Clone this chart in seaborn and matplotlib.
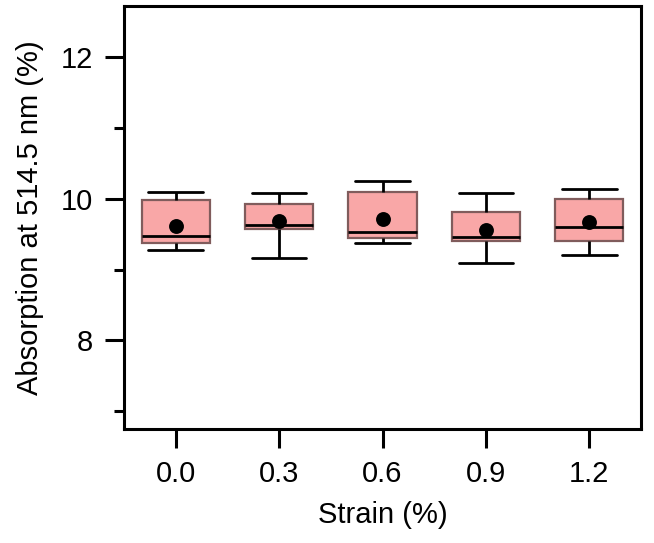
import numpy as np
import pandas as pd
import matplotlib
matplotlib.use("Agg")
import matplotlib.pyplot as plt
import seaborn as sns
from matplotlib.ticker import MultipleLocator

# ---- data ----
strain = ["0.0", "0.3", "0.6", "0.9", "1.2"]
whisker_low = [9.28, 9.17, 9.37, 9.09, 9.20]
q1 = [9.38, 9.57, 9.45, 9.41, 9.40]
median = [9.47, 9.63, 9.53, 9.46, 9.60]
q3 = [9.98, 9.92, 10.09, 9.81, 10.00]
whisker_high = [10.09, 10.08, 10.25, 10.08, 10.14]
mean = [9.62, 9.68, 9.71, 9.56, 9.67]

rows = []
for i, s in enumerate(strain):
    for v in (whisker_low[i], q1[i], median[i], q3[i], whisker_high[i]):
        rows.append({"Strain": s, "Value": v})
df = pd.DataFrame(rows)
df_mean = pd.DataFrame({"Strain": strain, "Mean": mean})

sns.set_style("ticks")
plt.rcParams["font.family"] = ["Liberation Sans", "DejaVu Sans"]
plt.rcParams["text.color"] = "black"
plt.rcParams["axes.labelcolor"] = "black"
plt.rcParams["xtick.color"] = "black"
plt.rcParams["ytick.color"] = "black"

fig = plt.figure(figsize=(6.54, 5.43), dpi=100)
ax = fig.add_axes([124 / 654, 1 - 429 / 543, (641 - 124) / 654, (429 - 6) / 543])

box_w = 0.66
sns.boxplot(
    data=df, x="Strain", y="Value", order=strain, ax=ax,
    whis=10, width=box_w, color="#F9A7A7", saturation=1,
    boxprops=dict(facecolor="#F9A7A7", edgecolor="#805C5C", linewidth=1.6),
    medianprops=dict(color="black", linewidth=2.0),
    whiskerprops=dict(color="black", linewidth=2.0),
    capprops=dict(color="black", linewidth=2.0, gid="cap"),
    showfliers=False,
)

# widen caps to ~0.8 of box width
cap_w = box_w * 0.80
for ln in ax.lines:
    if ln.get_gid() == "cap":
        xd = np.asarray(ln.get_xdata(), dtype=float)
        c = xd.mean()
        ln.set_xdata([c - cap_w / 2, c + cap_w / 2])

sns.scatterplot(data=df_mean, x="Strain", y="Mean", ax=ax, color="black",
                s=115, edgecolor="black", linewidth=0, zorder=5)

ax.set_xlim(-0.5, 4.5)
ax.set_ylim(6.75, 12.72)
ax.yaxis.set_major_locator(MultipleLocator(2))
ax.yaxis.set_minor_locator(MultipleLocator(1))
ax.set_yticks([8, 10, 12])
ax.set_yticklabels(["8", "10", "12"])

for sp in ax.spines.values():
    sp.set_linewidth(2.2)
    sp.set_visible(True)
    sp.set_color("black")

ax.tick_params(axis="both", which="major", length=14, width=2.2, labelsize=21,
               color="black", labelcolor="black", pad=8)
ax.tick_params(axis="y", which="minor", length=7, width=2.2, color="black")
ax.tick_params(axis="x", which="minor", length=0)

ax.set_xlabel("Strain (%)", fontsize=21, labelpad=10, color="black")
ax.set_ylabel("Absorption at 514.5 nm (%)", fontsize=21, labelpad=12, color="black")

fig.savefig("out.png", dpi=100)
